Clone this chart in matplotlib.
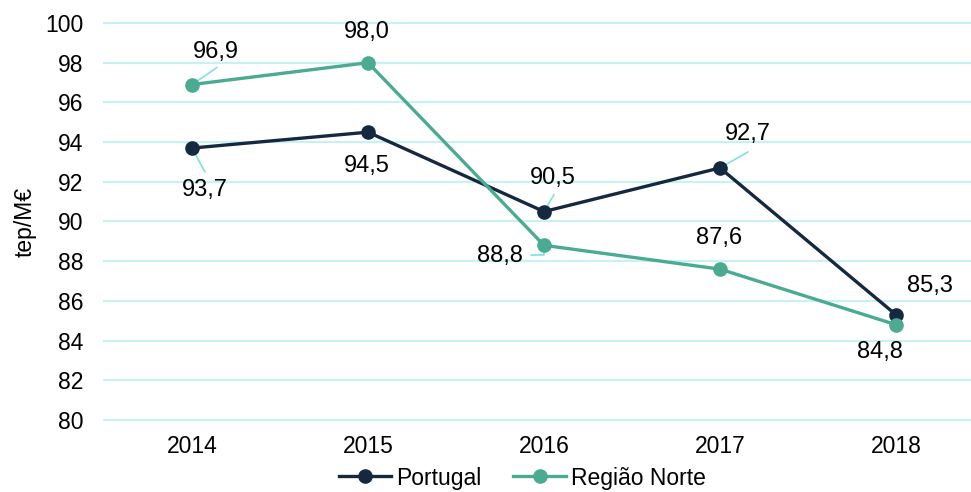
import matplotlib
matplotlib.use("Agg")
import matplotlib.pyplot as plt

plt.rcParams['font.family'] = ['Liberation Sans', 'DejaVu Sans']

years = ["2014", "2015", "2016", "2017", "2018"]
portugal = [93.7, 94.5, 90.5, 92.7, 85.3]
norte = [96.9, 98.0, 88.8, 87.6, 84.8]
yticks = list(range(80, 101, 2))

c_pt = "#14293f"
c_no = "#4aab92"
c_grid = "#c8f1f3"
c_lead = "#7fe0e4"

W, H = 971, 492
fig = plt.figure(figsize=(W / 100, H / 100), dpi=100)
left, right = 104, 971
top, bottom = 23, 420
ax = fig.add_axes([left / W, 1 - bottom / H, (right - left) / W, (bottom - top) / H])

x = list(range(len(years)))
ax.set_xlim(-0.5, -0.5 + (right - left) / 176.0)
ax.set_ylim(80, 100)
ax.set_yticks(yticks)
ax.set_yticklabels([str(v) for v in yticks])
ax.set_xticks(x)
ax.set_xticklabels(years)
ax.tick_params(length=0, labelsize=16.5, colors="#000000")
ax.tick_params(axis="y", pad=15)
ax.tick_params(axis="x", pad=11)
for s in ax.spines.values():
    s.set_visible(False)
ax.set_axisbelow(True)
for t in yticks:
    ax.axhline(t, color=c_grid, linewidth=1.5, zorder=0, clip_on=False)

ax.plot(x, portugal, color=c_pt, linewidth=2.4, marker="o", markersize=9.5, zorder=3, label="Portugal")
ax.plot(x, norte, color=c_no, linewidth=2.4, marker="o", markersize=9.5, zorder=3, label="Região Norte")

ax.set_ylabel("tep/M€", fontsize=16.5, labelpad=6)

def px(dx, dy):
    return (dx * 0.72, -dy * 0.72)

# label offsets in pixels (dx, dy), leader end offsets in pixels, leader style
pt_offsets = [(13, 42, (13, 24), None), (-1, 34, None, None), (9, -34, (10, -17), None),
              (28, -34, (28, -16), None), (34, -29, None, None)]
no_offsets = [(24, -33, (25, -17), None), (-1, -31, None, None),
              (-44, 11, (-13, 10), "angle,angleA=0,angleB=90,rad=0"),
              (-1, -31, None, None), (-16, 27, None, None)]

def fmt(v):
    return f"{v:.1f}".replace(".", ",")

for series, offsets in ((portugal, pt_offsets), (norte, no_offsets)):
    for xi, (v, (dx, dy, lead, cs)) in enumerate(zip(series, offsets)):
        ax.annotate(fmt(v), (xi, v), xytext=px(dx, dy), textcoords="offset points",
                    ha="center", va="center", fontsize=17, zorder=5)
        if lead:
            props = dict(arrowstyle="-", color=c_lead, lw=1.2, shrinkA=0, shrinkB=0)
            if cs:
                props["connectionstyle"] = cs
            ax.annotate("", (xi, v), xytext=px(*lead), textcoords="offset points",
                        arrowprops=props, zorder=2)

fig.legend(loc="center", bbox_to_anchor=(522 / W, 1 - 478 / H), ncol=2, frameon=False,
           fontsize=16.5, handlelength=2.3, columnspacing=1.4, handletextpad=0.2, borderaxespad=0)

fig.savefig("out.png", dpi=100)
